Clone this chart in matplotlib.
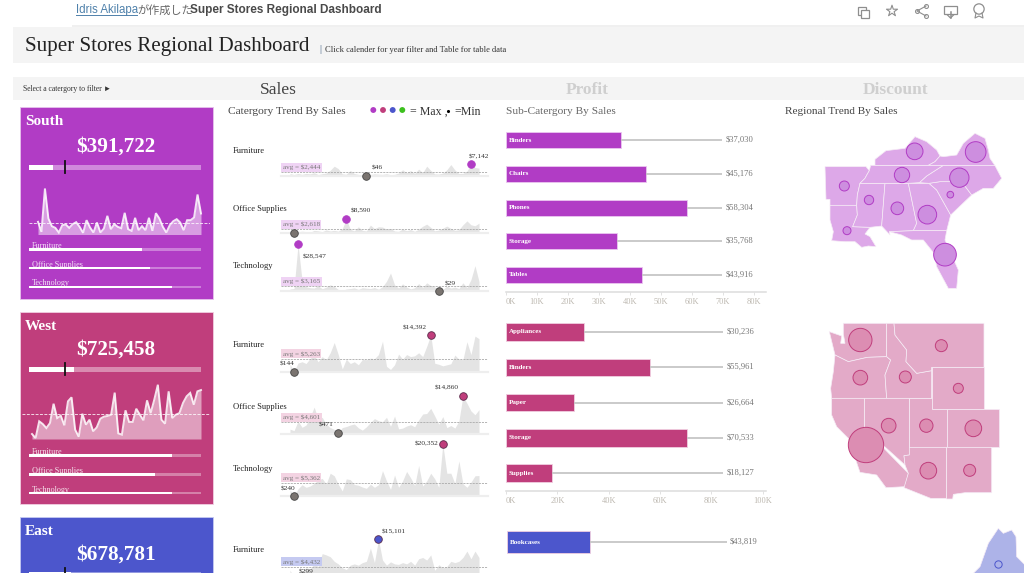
import numpy as np
import matplotlib
matplotlib.use("Agg")
import matplotlib.pyplot as plt
from matplotlib.patches import Rectangle, Polygon

W, H = 1024, 573
SERIF = "Liberation Serif"

# colours per region
south_col, west_col, east_col = "#B13CC5", "#C03E7C", "#4C56CC"
south_map, west_map, east_map = "#DDA8E8", "#E3AAC8", "#ADB3E8"
south_bub, west_bub = "#CD8EDF", "#DC8DB2"
south_lab, west_lab, east_lab = "#EFD3F4", "#F3D3E2", "#C5CAF1"

# card totals
south_total, west_total, east_total = 391722, 725458, 678781
total_track = 2770000
total_target = 584000
categories = ["Furniture", "Office Supplies", "Technology"]
south_shares = [0.656, 0.703, 0.834]
west_shares = [0.832, 0.733, 0.832]

# monthly totals on the cards
south_monthly = [9500, 2000, 34500, 12000, 6250, 5000, 1500, 7000, 7500, 5000, 7750, 9250,
                 5750, 1250, 10750, 5250, 1500, 9000, 1500, 4500, 14000, 4000, 7750, 5750,
                 4750, 16250, 4000, 2750, 12500, 3250, 6250, 3250, 12500, 2750, 16000, 12000,
                 5750, 1500, 7000, 10000, 11500, 9000, 3250, 10750, 10750, 12750, 30000, 15750]
west_monthly = [3100, 600, 11000, 9300, 6800, 9900, 21900, 13000, 14500, 8500, 23400, 25900,
                5800, 1400, 15700, 8900, 12000, 4800, 7200, 12600, 13900, 14300, 15100, 28800,
                3500, 2700, 17800, 10600, 10600, 18800, 15100, 11600, 24000, 16100, 24400, 33700,
                12000, 9500, 29600, 13000, 15100, 16100, 22400, 26500, 28600, 21300, 29600, 30400]

# monthly sales per category
south_furniture = [1500, 900, 1500, 1000, 1600, 1300, 2000, 900, 1400, 1800, 3500, 6000,
                   4500, 1300, 1100, 3400, 1500, 1000, 600, 46, 900, 1300, 1100, 1000,
                   1400, 800, 1000, 1800, 3800, 2000, 3300, 1600, 4200, 2000, 6000, 3400,
                   1300, 1200, 1800, 3800, 7000, 3700, 1500, 1600, 3000, 7142, 5200, 4800]
south_office = [1700, 60, 900, 1300, 1000, 600, 1800, 1500, 1000, 2100, 1400, 1800,
                1300, 2800, 8590, 2400, 1500, 4000, 1800, 1400, 5000, 2900, 4000, 3800,
                2500, 3000, 1400, 1200, 2600, 1600, 2300, 1200, 2500, 4300, 5600, 3600,
                1500, 2000, 3100, 4400, 3000, 1800, 2200, 5200, 7600, 5200, 4600, 6200]
south_tech = [1200, 1500, 28547, 6500, 2600, 2000, 1800, 3200, 1400, 2300, 3800, 2800,
              900, 500, 1200, 1500, 1900, 1000, 2000, 1700, 1500, 2100, 1100, 2600,
              6000, 11000, 3800, 1800, 4400, 2400, 1300, 2000, 4500, 2200, 5000, 3300,
              2600, 29, 900, 3000, 1800, 2400, 1500, 5000, 2000, 7000, 15500, 5800]
west_furniture = [3000, 144, 3500, 4000, 3300, 5300, 6500, 4000, 6000, 4800, 7500, 11500,
                  6800, 1200, 5000, 3300, 4000, 2800, 4900, 4800, 5400, 5200, 6800, 12000,
                  2200, 1000, 2800, 7000, 5000, 6800, 6000, 6300, 7500, 6000, 10000, 14392,
                  3400, 3000, 2400, 2800, 3200, 6600, 5000, 4800, 11800, 6800, 14000, 13000]
west_office = [1900, 1300, 5000, 2600, 3500, 6500, 10500, 5800, 6500, 3900, 2500, 1800,
               471, 2500, 2900, 3500, 3900, 2400, 1500, 2800, 4500, 6000, 5200, 4800,
               6500, 3000, 7000, 2000, 2300, 3100, 3600, 2800, 5500, 7800, 8000, 10000,
               7000, 3800, 6800, 2500, 3300, 2300, 5000, 14860, 12000, 9000, 7500, 9500]
west_tech = [2500, 240, 2900, 4500, 3500, 4000, 5000, 6300, 7000, 4800, 9000, 8000,
             4700, 2100, 6800, 6500, 4600, 4300, 3600, 3100, 4700, 3500, 4500, 10000,
             6000, 2700, 8300, 3500, 6000, 9700, 7200, 4200, 12000, 4000, 6000, 9000,
             6800, 3500, 20352, 9000, 9000, 5000, 13800, 4900, 3500, 5500, 8000, 8100]
east_furniture = [3000, 299, 1500, 2500, 4000, 3500, 5500, 4500, 9500, 9000, 8300, 6500,
                  5500, 4000, 3300, 5000, 5500, 5000, 6000, 6500, 11700, 6000, 15101, 7000,
                  5000, 6300, 5500, 5300, 6000, 5500, 6500, 5000, 7500, 8000, 7000, 9000,
                  3000, 5200, 4000, 4500, 6500, 6000, 6500, 8000, 10500, 7500, 10500, 8000]
south_avgs = [2444, 2618, 3165]
west_avgs = [5263, 4601, 5362]
east_avgs = [4432]

# sub-category bars
south_subs = ["Binders", "Chairs", "Phones", "Storage", "Tables"]
south_sub_sales = [37030, 45176, 58304, 35768, 43916]
west_subs = ["Appliances", "Binders", "Paper", "Storage", "Supplies"]
west_sub_sales = [30236, 55961, 26664, 70533, 18127]
east_subs = ["Bookcases"]
east_sub_sales = [43819]
south_ticks = [0, 10000, 20000, 30000, 40000, 50000, 60000, 70000, 80000]
west_ticks = [0, 20000, 40000, 60000, 80000, 100000]

# map outlines, in crop units (3 per screen pixel)
south_states = [
    [(135, 200), (258, 200), (268, 212), (262, 222), (255, 235), (240, 250), (232, 285), (230, 316), (150, 316),
     (150, 298), (138, 298)],
    [(150, 316), (230, 316), (232, 345), (218, 380), (270, 382), (255, 402), (270, 410), (288, 440), (265, 438),
     (245, 442), (225, 425), (195, 425), (155, 422), (160, 395), (150, 360)],
    [(240, 250), (315, 250), (305, 378), (270, 382), (218, 380), (232, 345), (230, 316), (232, 285)],
    [(315, 250), (385, 250), (410, 370), (400, 392), (328, 395), (330, 405), (305, 378)],
    [(385, 250), (447, 250), (470, 270), (512, 345), (500, 392), (400, 392), (410, 370)],
    [(328, 395), (400, 392), (500, 392), (495, 420), (535, 510), (530, 565), (505, 565), (470, 500), (462, 460),
     (430, 420), (395, 420), (365, 405)],
    [(447, 250), (480, 245), (545, 245), (575, 285), (512, 345), (470, 270)],
    [(418, 248), (440, 228), (490, 196), (645, 197), (665, 235), (640, 265), (610, 265), (575, 285), (545, 245),
     (480, 245), (447, 250)],
    [(240, 250), (255, 235), (262, 222), (268, 212), (272, 196), (490, 196), (440, 228), (418, 248), (385, 250),
     (315, 250)],
    [(285, 178), (318, 152), (375, 145), (405, 110), (440, 125), (470, 150), (480, 168), (465, 185), (445, 196),
     (285, 196)],
    [(445, 196), (465, 185), (480, 168), (490, 170), (530, 165), (550, 130), (585, 100), (615, 115), (625, 150),
     (630, 175), (645, 197), (490, 196)],
]
south_bub_x = [404, 587, 366, 538, 193, 267, 352, 511, 442, 201, 495]
south_bub_y = [154, 156, 225, 233, 258, 300, 325, 284, 344, 392, 464]
south_bub_r = [25, 31, 23, 29, 15, 14, 19, 10, 28, 12, 34]

west_states = [
    [(190, 40), (320, 40), (320, 140), (262, 142), (205, 155), (165, 135), (148, 65), (185, 78), (182, 100), (195, 100),
     (190, 72)],
    [(165, 135), (205, 155), (262, 142), (320, 140), (332, 150), (315, 195), (320, 265), (155, 265), (152, 235), (160, 185)],
    [(320, 40), (342, 40), (345, 75), (380, 120), (378, 155), (410, 190), (455, 182), (455, 265), (320, 265), (315, 195),
     (332, 150), (320, 140)],
    [(342, 40), (612, 40), (612, 172), (455, 172), (455, 182), (410, 190), (378, 155), (380, 120), (345, 75)],
    [(455, 172), (612, 172), (612, 297), (455, 297)],
    [(388, 265), (455, 265), (455, 297), (500, 297), (500, 412), (388, 412)],
    [(500, 297), (657, 297), (657, 412), (500, 412)],
    [(253, 265), (388, 265), (388, 435), (372, 437), (375, 465), (253, 355)],
    [(155, 265), (253, 265), (253, 355), (385, 490), (375, 530), (318, 533), (290, 495), (240, 487), (205, 385), (170, 350),
     (155, 315)],
    [(388, 412), (500, 412), (500, 565), (452, 565), (372, 533), (385, 490), (375, 465), (372, 437), (388, 435)],
    [(500, 412), (635, 412), (635, 548), (555, 548), (520, 553), (518, 567), (500, 567)],
]
west_bub_x = [241, 484, 241, 376, 535, 326, 439, 580, 258, 445, 569]
west_bub_y = [90, 107, 203, 201, 235, 347, 347, 355, 405, 482, 481]
west_bub_r = [35, 18, 22, 18, 15, 22, 20, 25, 53, 25, 18]

east_states = [
    [(570, 800), (600, 770), (625, 700), (655, 655), (670, 670), (695, 660), (708, 680), (710, 740), (735, 765), (735, 800)],
]
east_bub_x, east_bub_y, east_bub_r = [653], [762], [11]

fig = plt.figure(figsize=(W / 100, H / 100), dpi=100, facecolor="white")


def px_axes(x0, y0, x1, y1):
    ax = fig.add_axes([x0 / W, 1 - y1 / H, (x1 - x0) / W, (y1 - y0) / H], zorder=2)
    ax.patch.set_visible(False)
    return ax


def pt(px):
    return px * 0.72


# page furniture
bg = fig.add_axes([0, 0, 1, 1], zorder=0)
bg.set_xlim(0, W)
bg.set_ylim(H, 0)
bg.axis("off")
bg.add_patch(Rectangle((72, 25), W - 72, 1.5, color="#F0F0F0", lw=0))
bg.add_patch(Rectangle((13, 27), W - 13, 36, color="#F4F4F4", lw=0))
bg.add_patch(Rectangle((13, 77), W - 13, 23, color="#F4F4F4", lw=0))

bg.text(76, 10, "Idris Akilapa", family="Liberation Sans", fontsize=8.3, color="#4F81AB", va="center")
bg.plot([76, 137], [15, 15], color="#4F81AB", lw=0.7)
bg.text(137, 10, "が作成した", family=["Noto Sans CJK JP", "DejaVu Sans"], fontsize=8, color="#666666", va="center")
bg.text(190, 10, "Super Stores Regional Dashboard", family="Liberation Sans", weight="bold", fontsize=8.5,
        color="#4A4A4A", va="center")

bg.text(25, 47, "Super Stores Regional Dashboard", family=SERIF, fontsize=15.1, color="#222222", va="center")
bg.text(319, 49.5, "|", family=SERIF, fontsize=7, color="#3A5A80", va="center")
bg.text(325, 49.5, "Click calender for year filter and Table for table data", family=SERIF, fontsize=6.15,
        color="#333333", va="center")
bg.text(23, 89, "Select a catergory to filter ►", family=[SERIF, "DejaVu Sans"], fontsize=5.5, color="#333333", va="center")
bg.text(278, 89.5, "Sales", family=SERIF, fontsize=12.5, color="#444444", ha="center", va="center")
bg.text(587, 89.5, "Profit", family=SERIF, fontsize=12.5, color="#CFCFCF", ha="center", va="center", weight="bold")
bg.text(896, 89.5, "Discount", family=SERIF, fontsize=12.5, color="#CFCFCF", ha="center", va="center", weight="bold")

bg.text(228, 111.5, "Catergory Trend By Sales", family=SERIF, fontsize=8.2, color="#444444", va="center")
bg.text(506, 111.5, "Sub-Catergory By Sales", family=SERIF, fontsize=8.2, color="#666666", va="center")
bg.text(785, 111.5, "Regional Trend By Sales", family=SERIF, fontsize=8.1, color="#444444", va="center")
bg.scatter([373.3, 383, 392.7, 402.3], [110] * 4, s=18,
           c=[south_col, west_col, east_col, "#3CC01E"], linewidths=0)
bg.text(410, 112, "= Max ,", family=SERIF, fontsize=8.6, color="#333333", va="center")
bg.scatter([447.5], [111], s=5, c="black", linewidths=0)
bg.text(454, 112, "=Min", family=SERIF, fontsize=8.6, color="#333333", va="center")

# toolbar glyphs
grey = "#8E8E8E"
bg.add_patch(Rectangle((858, 7), 8, 8, fill=False, ec=grey, lw=0.9))
bg.add_patch(Rectangle((861, 10), 8, 8, fc="white", ec=grey, lw=0.9))
bg.scatter([892], [11], marker="*", s=70, facecolors="none", edgecolors=grey, linewidths=0.8)
bg.plot([926, 917, 926], [6, 11, 16], color=grey, lw=0.8)
bg.scatter([926, 917, 926], [6, 11, 16], s=8, facecolors="white", edgecolors=grey, linewidths=0.8)
bg.add_patch(Rectangle((944, 6), 13, 8, fill=False, ec=grey, lw=0.9))
bg.plot([950.5, 950.5], [12, 18], color=grey, lw=1.1)
bg.plot([947.5, 950.5, 953.5], [15, 18, 15], color=grey, lw=0.9)
bg.scatter([979], [9], s=55, facecolors="none", edgecolors=grey, linewidths=0.9)
bg.plot([976, 975, 979, 983, 982], [13, 18, 16, 18, 13], color=grey, lw=0.8)


def card(y0, y1, name, total, colour, value_y, track_y, target_span, edge="#E6C3EC"):
    bg.add_patch(Rectangle((20, y0), 192.5, y1 - y0, fc=colour, ec=edge, lw=0.6))
    bg.text(25, y0 + 14.5, name, family=SERIF, weight="bold", fontsize=11, color="white", va="center")
    bg.text(116, value_y, f"${total:,}", family=SERIF, weight="bold", fontsize=15.2, color="white",
            ha="center", va="center")
    ax = px_axes(29, track_y, 201, track_y + 5)
    ax.barh(0, total_track, height=1, color="white", alpha=0.4, lw=0)
    ax.barh(0, total, height=1, color="white", lw=0)
    ax.plot([total_target, total_target], target_span, color="#111111", lw=1.3, clip_on=False, zorder=4)
    ax.set_xlim(0, total_track)
    ax.set_ylim(-0.5, 0.5)
    ax.axis("off")


def card_spark(values, base_y, first_px, line_x0, scale):
    x0, x1 = line_x0, 210
    step = (201 - first_px) / (len(values) - 1)
    ax = px_axes(x0, base_y - 70, x1, base_y)
    x = np.arange(len(values))
    avg = np.mean(values)
    ax.fill_between(x, values, 0, color="white", alpha=0.5, lw=0)
    ax.plot(x, values, color="white", lw=1.4, alpha=0.85, solid_joinstyle="miter")
    ax.set_xlim((x0 - first_px) / step, (x1 - first_px) / step)
    ax.set_ylim(0, 70 * scale)
    ax.axhline(avg, color="white", lw=0.7, ls=(0, (3, 1.5)), alpha=0.8)
    ax.axis("off")


def card_shares(shares, ys):
    for name, share, y in zip(categories, shares, ys):
        ax = px_axes(29, y, 201, y + 2.4)
        ax.barh(0, 1, height=1, color="white", alpha=0.35, lw=0)
        ax.barh(0, share, height=1, color="white", lw=0)
        ax.set_xlim(0, 1)
        ax.set_ylim(-0.5, 0.5)
        ax.axis("off")
        ax.text(0.015, -0.2, name, family=SERIF, fontsize=5.9, color="white", alpha=0.85,
                transform=ax.get_yaxis_transform(), va="bottom")


def spark(values, avg, base_y, scale, colour, lab_colour, max_off, min_off, name, name_y, show_min=True):
    first, last = 290, 479
    step = (last - first) / (len(values) - 1)
    ax = px_axes(281, base_y - 65, 488, base_y)
    x = np.arange(len(values))
    ax.fill_between(x, values, 0, color="#E4E4E4", lw=0)
    ax.set_xlim((281 - first) / step, (488 - first) / step)
    ax.set_ylim(0, 65 * scale)
    ax.axhline(0, color="#EEEEEE", lw=1.6, clip_on=False)
    ax.axhline(avg, color="#AAAAAA", lw=0.6, ls=(0, (2.5, 1.2)))
    ax.axis("off")
    ax.annotate(f"avg = ${avg:,}", xy=(0, avg), xycoords=("axes fraction", "data"), xytext=(1.2, 1.4),
                textcoords="offset points", family=SERIF, fontsize=5.1, color="#777777", va="bottom",
                bbox=dict(fc=lab_colour, ec="none", pad=1.2), annotation_clip=False)
    hi, lo = int(np.argmax(values)), int(np.argmin(values))
    ax.scatter([hi], [values[hi]], s=30, c=colour, edgecolors="#5A2A4A" if colour != south_col else colour,
               linewidths=0.6, clip_on=False, zorder=5)
    ax.annotate(f"${values[hi]:,}", xy=(hi, values[hi]), xytext=(pt(max_off[0]), pt(max_off[1])),
                textcoords="offset points", family=SERIF, fontsize=5.3, color="#333333",
                ha="center", va="center", annotation_clip=False)
    ax.scatter([lo], [values[lo]], s=30, c="#7A7470", edgecolors="#444444", linewidths=0.6, clip_on=False, zorder=5)
    if show_min:
        ax.annotate(f"${values[lo]:,}", xy=(lo, values[lo]), xytext=(pt(min_off[0]), pt(min_off[1])),
                    textcoords="offset points", family=SERIF, fontsize=5.3, color="#333333",
                    ha="center", va="center", annotation_clip=False)
    bg.text(232.7, name_y, name, family=SERIF, fontsize=6.1, color="#222222", va="center")


def sub_bars(names, sales, ticks, colour, x0, top, bottom, first_y, spacing, x_per_px, bar_h, stem_px):
    ax = px_axes(x0, top, 766, bottom)
    pos = np.arange(len(names))
    stem_end = (stem_px - x0) * x_per_px
    ax.hlines(pos, sales, stem_end, color="#C6C6C6", lw=1.3)
    ax.barh(pos, sales, height=bar_h / spacing, color=colour, edgecolor="#EBC6F0" if colour == south_col else "#F0CFE0", lw=0.6)
    ax.set_xlim(0, (766 - x0) * x_per_px)
    ax.set_ylim((bottom - first_y) / spacing, (top - first_y) / spacing)
    for p, name, val in zip(pos, names, sales):
        ax.text(2.5 * x_per_px, p, name, family=SERIF, weight="bold", fontsize=5, color="white", va="center")
        ax.annotate(f"${val:,}", xy=(stem_end, p), xytext=(pt(3), 0), textcoords="offset points", family=SERIF,
                    fontsize=6.1, color="#777777", va="center")
    ax.yaxis.set_visible(False)
    for s in ("top", "left", "right"):
        ax.spines[s].set_visible(False)
    if ticks:
        ax.spines["bottom"].set_color("#DDDDDD")
        ax.spines["bottom"].set_linewidth(1.1)
        ax.set_xticks(ticks)
        ax.set_xticklabels([f"{t // 1000}K" for t in ticks], family=SERIF, fontsize=6, color="#BDB8B0")
        ax.tick_params(axis="x", length=2, width=0.6, color="#DDDDDD", pad=2.5)
        ax.get_xticklabels()[0].set_ha("left")
    else:
        ax.spines["bottom"].set_visible(False)
        ax.set_xticks([])


def state_map(ax, states, fill, bub_x, bub_y, bub_r, bub_fill, edge):
    for outline in states:
        ax.add_patch(Polygon(outline, closed=True, fc=fill, ec="#F6ECF6", lw=0.5))
    sizes = [(2 * r / 3 * 0.72) ** 2 for r in bub_r]
    ax.scatter(bub_x, bub_y, s=sizes, c=bub_fill, edgecolors=edge, linewidths=0.7, zorder=3)


# cards
card(106.7, 298.7, "South", south_total, south_col, 147, 165, [-1.1, 1.3])
card_spark(south_monthly, 234.5, 38, 29, 750)
card_shares(south_shares, [248.3, 267, 285.7])
card(311.7, 503.7, "West", west_total, west_col, 350, 367, [-1.1, 1.3], edge="#F0CFE0")
card_spark(west_monthly, 439, 32, 22, 621)
card_shares(west_shares, [454.3, 473.3, 492])
card(517, 580, "East", east_total, east_col, 555, 572, [-1.1, 1.3], edge="#C5CAF1")

# category trends
spark(south_furniture, south_avgs[0], 176, 612, south_col, south_lab, (8, 8), (11, 8), categories[0], 151)
spark(south_office, south_avgs[1], 233.3, 612, south_col, south_lab, (15, 8), (9, 8), categories[1], 209, show_min=False)
spark(south_tech, south_avgs[2], 291, 612, south_col, south_lab, (17, -12), (11, 7), categories[2], 266)
spark(west_furniture, west_avgs[0], 372, 390, west_col, west_lab, (-16, 7), (-7, 8), categories[0], 345)
spark(west_office, west_avgs[1], 434, 390, west_col, west_lab, (-16, 8), (-12, 8), categories[1], 407)
spark(west_tech, west_avgs[2], 496.3, 390, west_col, west_lab, (-16, 0), (-6, 7), categories[2], 469)
spark(east_furniture, east_avgs[0], 578, 390, east_col, east_lab, (15, 7), (12, 5), categories[0], 550)

# sub-category bars
sub_bars(south_subs, south_sub_sales, south_ticks, south_col, 506, 118, 291.7, 140.3, 33.6, 10000 / 30.96, 16, 722.3)
sub_bars(west_subs, west_sub_sales, west_ticks, west_col, 506, 318, 491, 332, 35.3, 20000 / 51.3, 17.6, 723.3)
sub_bars(east_subs, east_sub_sales, [], east_col, 507, 525, 559, 542, 35.3, 43819 / 83.3, 22, 726.7)

# maps, crop units again
map_s = px_axes(780, 100, 1024, 310)
map_s.set_xlim(0, 732)
map_s.set_ylim(630, 0)
map_s.axis("off")
state_map(map_s, south_states, south_map, south_bub_x, south_bub_y, south_bub_r, south_bub, south_col)

map_w = px_axes(780, 310, 1024, 573)
map_w.set_xlim(0, 732)
map_w.set_ylim(789, 0)
map_w.axis("off")
state_map(map_w, west_states, west_map, west_bub_x, west_bub_y, west_bub_r, west_bub, west_col)
state_map(map_w, east_states, east_map, east_bub_x, east_bub_y, east_bub_r, east_map, east_col)

fig.savefig("out.png", dpi=100)
